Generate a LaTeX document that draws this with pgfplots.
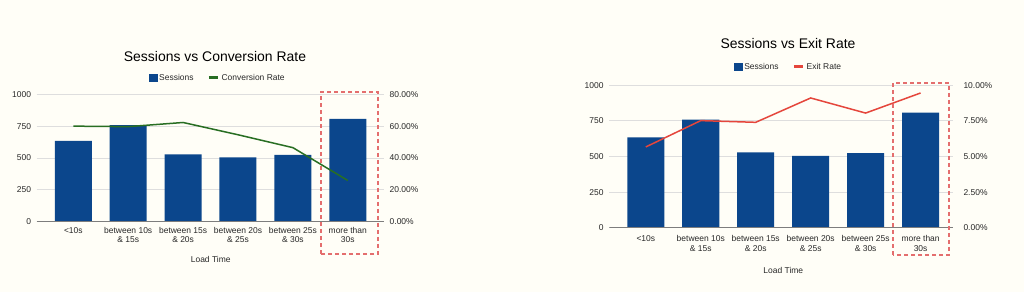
\documentclass[border=0pt]{standalone}
\usepackage{fontspec}
\setmainfont{Liberation Sans}
\usepackage{pgfplots}
\pgfplotsset{compat=1.18}
\definecolor{bg}{RGB}{255,254,247}
\definecolor{barblue}{RGB}{11,70,140}
\definecolor{cgreen}{RGB}{40,110,35}
\definecolor{ered}{RGB}{229,70,60}
\definecolor{dashred}{RGB}{228,110,110}
\definecolor{gridc}{RGB}{222,222,222}
\definecolor{zeroc}{RGB}{125,125,125}
\definecolor{txt}{RGB}{40,40,40}

\pgfplotstableread{
x sessions conv exit
0 634 60.0 5.67
1 759 59.7 7.52
2 529 62.3 7.40
3 504 54.6 9.11
4 524 46.5 8.05
5 808 25.9 9.46
}\data

\tikzset{dashbox/.style={draw=dashred, line width=1.4bp, dash pattern=on 4bp off 3bp}}

\pgfplotsset{
  common/.style={
    scale only axis, anchor=south west,
    ymin=0, font=\fontsize{8.5}{9.5}\selectfont,
    tick style={draw=none},
    axis line style={draw=none},
    ticklabel style={text=txt},
    xtick={0,...,5},
  },
  prim/.style={
    common, ymax=1000, ytick={0,250,500,750,1000},
    yticklabels={0,250,500,750,1000},
    ymajorgrids, grid style={gridc, line width=0.8bp},
    yticklabel style={xshift=-2.2bp},
    xticklabels={{<10s},{between 10s\\\& 15s},{between 15s\\\& 20s},{between 20s\\\& 25s},{between 25s\\\& 30s},{more than\\30s}},
    xticklabel style={align=center, font=\fontsize{8.5}{9.5}\selectfont},
  },
  sec/.style={
    common, axis x line=none, axis y line*=right,
    legend style={draw=none, fill=none, anchor=center, legend columns=2,
      font=\fontsize{8.5}{9.5}\selectfont, text=txt,
      /tikz/every even column/.append style={column sep=12bp}},
  },
}

\begin{document}
\begin{tikzpicture}
\fill[bg] (0bp,0bp) rectangle (1024bp,292bp);
\useasboundingbox (0bp,0bp) rectangle (1024bp,292bp);

% ---------- Left chart ----------
\begin{axis}[prim, at={(36.7bp,70.3bp)}, width=347.3bp, height=127.4bp,
  xmin=-0.667, xmax=5.66, xticklabel style={yshift=-2bp}]
\addplot[ybar, bar width=0.674, fill=barblue, draw=none] table[x=x,y=sessions]{\data};
\draw[zeroc, line width=1.3bp] (rel axis cs:0,0) -- (rel axis cs:1,0);
\end{axis}
\begin{axis}[sec, at={(36.7bp,70.3bp)}, width=347.3bp, height=127.4bp,
  xmin=-0.667, xmax=5.66, ymax=80, ytick={0,20,40,60,80},
  yticklabels={0.00\%,20.00\%,40.00\%,60.00\%,80.00\%},
  yticklabel style={xshift=2.2bp},
  legend style={at={(0.522,1.13)}}]
\addlegendimage{legend image code/.code={\fill[barblue] (0bp,-3.6bp) rectangle (7.5bp,3.6bp);}}
\addlegendentry{Sessions}
\addplot[cgreen, line width=1.5bp, mark=none,
  legend image code/.code={\draw[cgreen, line width=2.6bp] (0bp,0bp) -- (9.5bp,0bp);}]
  table[x=x,y=conv]{\data};
\addlegendentry{Conversion Rate}
\end{axis}
\draw[dashbox] (321bp,38bp) rectangle (378bp,200bp);
\node[font=\fontsize{14}{16}\selectfont, text=black] at (215bp,235bp) {Sessions vs Conversion Rate};
\node[font=\fontsize{8.5}{9.5}\selectfont, text=txt] at (210.7bp,33bp) {Load Time};

% ---------- Right chart ----------
\begin{axis}[prim, at={(609.3bp,64.3bp)}, width=343.7bp, height=142.4bp,
  xmin=-0.664, xmax=5.59, xticklabel style={yshift=-4bp, font=\fontsize{8.5}{10}\selectfont}]
\addplot[ybar, bar width=0.674, fill=barblue, draw=none] table[x=x,y=sessions]{\data};
\draw[zeroc, line width=1.3bp] (rel axis cs:0,0) -- (rel axis cs:1,0);
\end{axis}
\begin{axis}[sec, at={(609.3bp,64.3bp)}, width=343.7bp, height=142.4bp,
  xmin=-0.664, xmax=5.59, ymax=10, ytick={0,2.5,5,7.5,10},
  yticklabels={0.00\%,2.50\%,5.00\%,7.50\%,10.00\%},
  yticklabel style={xshift=7bp},
  legend style={at={(0.522,1.13)}}]
\addlegendimage{legend image code/.code={\fill[barblue] (0bp,-3.6bp) rectangle (7.5bp,3.6bp);}}
\addlegendentry{Sessions}
\addplot[ered, line width=1.5bp, mark=none,
  legend image code/.code={\draw[ered, line width=2.6bp] (0bp,0bp) -- (9.5bp,0bp);}]
  table[x=x,y=exit]{\data};
\addlegendentry{Exit Rate}
\end{axis}
\draw[dashbox] (893bp,37bp) rectangle (949bp,209bp);
\node[font=\fontsize{14}{16}\selectfont, text=black] at (788bp,248bp) {Sessions vs Exit Rate};
\node[font=\fontsize{8.5}{9.5}\selectfont, text=txt] at (783.3bp,22bp) {Load Time};
\end{tikzpicture}
\end{document}
